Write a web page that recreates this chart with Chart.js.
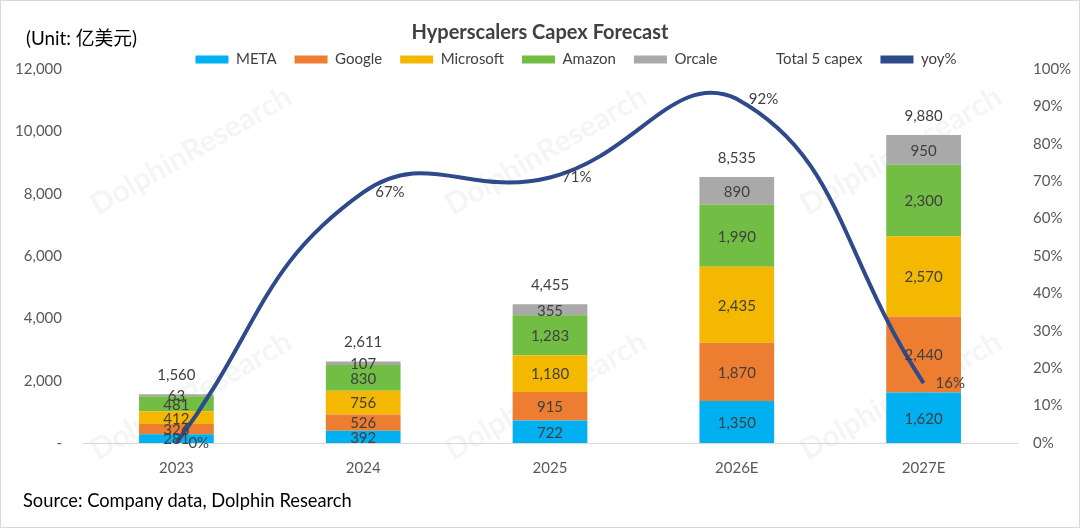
<!DOCTYPE html>
<html>
<head>
<meta charset="utf-8">
<script src="https://cdn.jsdelivr.net/npm/chart.js@4/dist/chart.umd.min.js"></script>
<style>
  html, body { margin: 0; padding: 0; background: #fff; }
  #wrap { position: relative; width: 1080px; height: 528px; box-sizing: border-box; border: 1px solid #d9d9d9; overflow: hidden; }
  #wrap canvas { position: absolute; left: 0; top: 0; }
  .note { position: absolute; font-family: Lato, "Noto Sans CJK SC", sans-serif; color: #000; white-space: nowrap; }
  #unit { left: 25px; top: 22px; font-size: 18.8px; }
  #source { left: 22px; top: 488px; font-size: 18.3px; }
</style>
</head>
<body>
<div id="wrap">
  <canvas id="capex-chart" width="1078" height="526"></canvas>
  <div id="unit" class="note">(Unit: 亿美元)</div>
  <div id="source" class="note">Source: Company data, Dolphin Research</div>
</div>
<script>
// Chart data (亿美元)
const years = ['2023', '2024', '2025', '2026E', '2027E'];
const meta = [281, 392, 722, 1350, 1620];
const google = [326, 526, 915, 1870, 2440];
const microsoft = [412, 756, 1180, 2435, 2570];
const amazon = [481, 830, 1283, 1990, 2300];
const oracle = [63, 107, 355, 890, 950];
const totals = [1560, 2611, 4455, 8535, 9880];
const yoy = [0, 67, 71, 92, 16]; // percent
const leftTicks = [0, 2000, 4000, 6000, 8000, 10000, 12000];

const FONT = 'Lato, "Noto Sans CJK SC", sans-serif';
const textColor = '#404040';
const lineColor = '#2E4A8A';

function fmt(v) {
    return v.toLocaleString('en-US');
}

function barSet(label, data, color) {
    return {
        type: 'bar',
        label: label,
        data: data,
        backgroundColor: color,
        borderWidth: 0,
        stack: 'capex',
        yAxisID: 'y',
        order: 2,
        categoryPercentage: 1,
        barPercentage: 0.4
    };
}

// legend sits a little right of centre in the original
const legendShift = {
    id: 'legendShift',
    afterLayout(chart) {
        chart.legend.left += 36;
        chart.legend.right += 36;
    }
};

// value labels + faint watermark
const labelPlugin = {
    id: 'valueLabels',
    beforeDatasetsDraw(chart) {
        const c = chart.ctx;
        c.save();
        c.font = 'bold 30px ' + FONT;
        c.fillStyle = 'rgba(190,190,190,0.16)';
        c.textAlign = 'center';
        c.textBaseline = 'middle';
        const spots = [[190, 150], [545, 150], [900, 150], [190, 395], [545, 395], [900, 395]];
        spots.forEach(function(p) {
            c.save();
            c.translate(p[0], p[1]);
            c.rotate(-Math.PI / 6);
            c.fillText('DolphinResearch', 0, 0);
            c.restore();
        });
        c.restore();
    },
    afterDatasetsDraw(chart) {
        const c = chart.ctx;
        c.save();
        c.font = '15px ' + FONT;
        c.fillStyle = textColor;
        c.textBaseline = 'middle';
        chart.data.datasets.forEach(function(ds, i) {
            const m = chart.getDatasetMeta(i);
            m.data.forEach(function(el, j) {
                if (ds.kind === 'total') {
                    c.textAlign = 'center';
                    c.fillText(fmt(ds.data[j]), el.x, el.y - 19);
                } else if (ds.kind === 'yoy') {
                    c.textAlign = 'left';
                    c.fillText(ds.data[j] + '%', el.x + 12, el.y);
                } else {
                    c.textAlign = 'center';
                    c.fillText(fmt(ds.data[j]), el.x, (el.y + el.base) / 2 + 1);
                }
            });
        });
        c.restore();
    }
};

const ctx = document.getElementById('capex-chart').getContext('2d');
const capexChart = new Chart(ctx, {
    data: {
        labels: years,
        datasets: [
            barSet('META', meta, '#00B0F0'),
            barSet('Google', google, '#ED7D31'),
            barSet('Microsoft', microsoft, '#F5B800'),
            barSet('Amazon', amazon, '#72BE44'),
            barSet('Orcale', oracle, '#A9A9A9'),
            {
                type: 'line',
                kind: 'total',
                label: 'Total 5 capex',
                data: totals,
                showLine: false,
                pointRadius: 0,
                borderColor: 'rgba(0,0,0,0)',
                backgroundColor: 'rgba(0,0,0,0)',
                stack: 'total',
                yAxisID: 'y',
                order: 1
            },
            {
                type: 'line',
                kind: 'yoy',
                label: 'yoy%',
                data: yoy,
                borderColor: lineColor,
                backgroundColor: lineColor,
                borderWidth: 4,
                pointRadius: 0,
                tension: 0.45,
                yAxisID: 'y1',
                order: 0
            }
        ]
    },
    options: {
        responsive: false,
        animation: false,
        layout: { padding: { left: 0, right: 0, top: 0, bottom: 50 } },
        scales: {
            x: {
                afterFit(axis) { axis.height = 34; },
                grid: { display: false },
                border: { display: true, color: '#d9d9d9' },
                ticks: { color: '#595959', font: { family: FONT, size: 15 }, padding: 8 }
            },
            y: {
                stacked: true,
                min: 0,
                max: 12000,
                afterBuildTicks(axis) {
                    axis.ticks = leftTicks.map(function(v) { return { value: v }; });
                },
                afterFit(axis) { axis.width = 82; },
                grid: { display: false },
                border: { display: false },
                ticks: {
                    color: '#595959',
                    font: { family: FONT, size: 15 },
                    padding: 13,
                    callback: function(v) { return v === 0 ? '-' : fmt(v); }
                }
            },
            y1: {
                position: 'right',
                min: 0,
                max: 100,
                afterFit(axis) { axis.width = 62; },
                grid: { display: false },
                border: { display: false },
                ticks: {
                    stepSize: 10,
                    color: '#595959',
                    font: { family: FONT, size: 15 },
                    padding: 8,
                    callback: function(v) { return v + '%'; }
                }
            }
        },
        plugins: {
            title: {
                display: true,
                text: 'Hyperscalers Capex Forecast',
                color: '#404040',
                font: { family: FONT, size: 20, weight: 'bold' },
                padding: { top: 20, bottom: -11 }
            },
            legend: {
                display: true,
                maxHeight: 35,
                labels: {
                    color: '#404040',
                    font: { family: FONT, size: 15 },
                    boxWidth: 33,
                    boxHeight: 8,
                    padding: 18,
                    sort: function(a, b) { return a.datasetIndex - b.datasetIndex; },
                    generateLabels: function(chart) {
                        const items = Chart.defaults.plugins.legend.labels.generateLabels(chart);
                        items.forEach(function(it) {
                            const ds = chart.data.datasets[it.datasetIndex];
                            it.lineWidth = 0;
                            it.strokeStyle = 'rgba(0,0,0,0)';
                            if (ds.kind === 'total') {
                                it.fillStyle = 'rgba(0,0,0,0)';
                            } else {
                                it.fillStyle = ds.kind === 'yoy' ? lineColor : ds.backgroundColor;
                            }
                        });
                        return items;
                    }
                }
            },
            tooltip: { enabled: false }
        }
    },
    plugins: [labelPlugin, legendShift]
});
</script>
</body>
</html>
